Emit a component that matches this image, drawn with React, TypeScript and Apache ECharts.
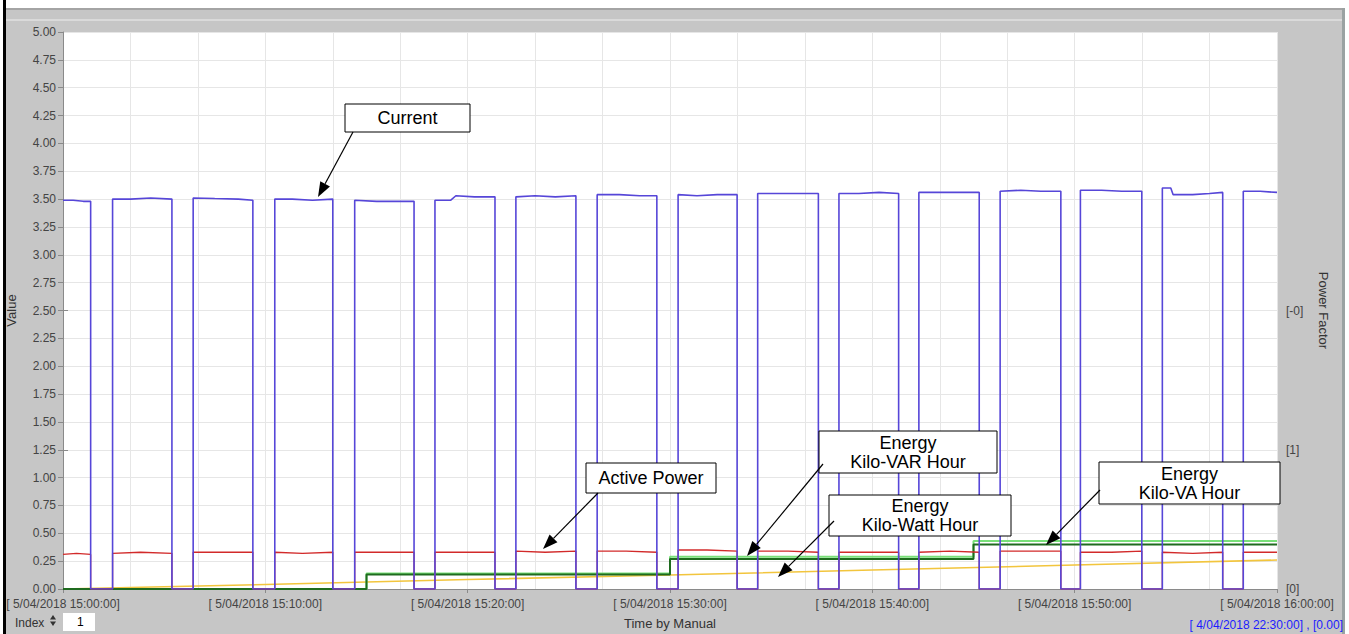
import React, { useEffect, useRef } from "react";
import * as echarts from "echarts";

// ---- data (time in seconds after 5/04/2018 15:00:00) ----
const xLabelTimes = [0, 600, 1200, 1800, 2400, 3000, 3600];
const powerFactorTicks = [0, 1, 2];
const powerFactorLabels = ["[0]", "[1]", "[-0]"];

const current: [number, number][] = [
  [0, 3.49], [30, 3.49], [60, 3.48], [82, 3.48], [82, 0], [147, 0],
  [147, 3.5], [200, 3.5], [260, 3.51], [323, 3.5], [323, 0], [386, 0],
  [386, 3.51], [450, 3.505], [520, 3.5], [563, 3.49], [563, 0], [628, 0],
  [628, 3.5], [680, 3.5], [740, 3.49], [800, 3.5], [800, 0], [865, 0],
  [865, 3.49], [930, 3.48], [990, 3.48], [1041, 3.48], [1041, 0], [1103, 0],
  [1103, 3.49], [1150, 3.49], [1165, 3.53], [1220, 3.52], [1281, 3.52], [1281, 0], [1343, 0],
  [1343, 3.52], [1400, 3.53], [1460, 3.52], [1521, 3.53], [1521, 0], [1584, 0],
  [1584, 3.54], [1650, 3.54], [1710, 3.53], [1761, 3.53], [1761, 0], [1824, 0],
  [1824, 3.54], [1880, 3.53], [1940, 3.54], [1999, 3.54], [1999, 0], [2060, 0],
  [2060, 3.55], [2120, 3.55], [2180, 3.55], [2240, 3.55], [2240, 0], [2301, 0],
  [2301, 3.55], [2360, 3.55], [2420, 3.56], [2478, 3.55], [2478, 0], [2538, 0],
  [2538, 3.56], [2600, 3.56], [2660, 3.56], [2717, 3.56], [2717, 0], [2779, 0],
  [2779, 3.57], [2840, 3.58], [2900, 3.57], [2959, 3.57], [2959, 0], [3017, 0],
  [3017, 3.58], [3080, 3.58], [3140, 3.57], [3199, 3.57], [3199, 0], [3260, 0],
  [3260, 3.6], [3285, 3.6], [3292, 3.54], [3350, 3.54], [3400, 3.55], [3439, 3.56], [3439, 0], [3500, 0],
  [3500, 3.57], [3550, 3.57], [3600, 3.56],
];

const activePower: [number, number][] = [
  [0, 0.31], [40, 0.32], [82, 0.31], [82, 0], [147, 0],
  [147, 0.32], [230, 0.33], [323, 0.32], [323, 0], [386, 0],
  [386, 0.33], [470, 0.33], [563, 0.33], [563, 0], [628, 0],
  [628, 0.33], [710, 0.32], [800, 0.33], [800, 0], [865, 0],
  [865, 0.33], [950, 0.33], [1041, 0.33], [1041, 0], [1103, 0],
  [1103, 0.33], [1190, 0.33], [1281, 0.33], [1281, 0], [1343, 0],
  [1343, 0.34], [1430, 0.33], [1521, 0.34], [1521, 0], [1584, 0],
  [1584, 0.34], [1670, 0.34], [1761, 0.33], [1761, 0], [1824, 0],
  [1824, 0.35], [1910, 0.35], [1999, 0.34], [1999, 0], [2060, 0],
  [2060, 0.34], [2150, 0.34], [2240, 0.33], [2240, 0], [2301, 0],
  [2301, 0.33], [2390, 0.33], [2478, 0.33], [2478, 0], [2538, 0],
  [2538, 0.33], [2630, 0.34], [2717, 0.33], [2717, 0], [2779, 0],
  [2779, 0.34], [2870, 0.34], [2959, 0.34], [2959, 0], [3017, 0],
  [3017, 0.33], [3110, 0.33], [3199, 0.34], [3199, 0], [3260, 0],
  [3260, 0.33], [3350, 0.32], [3439, 0.33], [3439, 0], [3500, 0],
  [3500, 0.33], [3600, 0.33],
];

const kiloVarHour: [number, number][] = [
  [0, 0], [900, 0], [900, 0.13], [1800, 0.13], [1800, 0.27], [2700, 0.27], [2700, 0.4], [3600, 0.4],
];
const kiloVaHour: [number, number][] = [
  [0, 0], [900, 0], [900, 0.14], [1800, 0.14], [1800, 0.29], [2700, 0.29], [2700, 0.43], [3600, 0.43],
];
const kiloWattHour: [number, number][] = [
  [0, 0], [300, 0.02], [600, 0.04], [1200, 0.085], [1800, 0.125], [2400, 0.17], [3000, 0.215], [3600, 0.26],
];

// ---- annotation layout (pixels) ----
const annotations = [
  { lines: ["Current"], box: [345, 104, 125, 28], from: [353, 132], to: [318, 197] },
  { lines: ["Active Power"], box: [586, 463, 130, 30], from: [598, 493], to: [543, 549] },
  { lines: ["Energy", "Kilo-VAR Hour"], box: [819, 431, 178, 42], from: [823, 464], to: [747, 556] },
  { lines: ["Energy", "Kilo-Watt Hour"], box: [829, 495, 182, 41], from: [834, 521], to: [778, 577] },
  { lines: ["Energy", "Kilo-VA Hour"], box: [1099, 462, 181, 42], from: [1100, 490], to: [1046, 545] },
];

const FONT = "'Liberation Sans', Arial, sans-serif";

function fmtTime(v: number) {
  const total = 15 * 60 + Math.round(v / 60);
  const h = Math.floor(total / 60);
  const m = total % 60;
  return `[ 5/04/2018 ${h}:${String(m).padStart(2, "0")}:00]`;
}

function arrow(x1: number, y1: number, x2: number, y2: number) {
  const ang = Math.atan2(y2 - y1, x2 - x1);
  const L = 15;
  const W = 5.5;
  const bx = x2 - L * Math.cos(ang);
  const by = y2 - L * Math.sin(ang);
  const px = -Math.sin(ang) * W;
  const py = Math.cos(ang) * W;
  return [
    { type: "line", z: 100, silent: true, shape: { x1, y1, x2: bx, y2: by }, style: { stroke: "#000", lineWidth: 1.2 } },
    {
      type: "polygon", z: 100, silent: true,
      shape: { points: [[x2, y2], [bx + px, by + py], [bx - px, by - py]] },
      style: { fill: "#000" },
    },
  ];
}

function buildGraphics() {
  const g: any[] = [];
  // window chrome
  g.push({ type: "rect", z: 1, silent: true, shape: { x: 0, y: 0, width: 1349, height: 8 }, style: { fill: "#ffffff" } });
  g.push({ type: "rect", z: 1, silent: true, shape: { x: 0, y: 8, width: 1349, height: 2 }, style: { fill: "#a4a4a4" } });
  g.push({ type: "rect", z: 1, silent: true, shape: { x: 0, y: 19, width: 1345, height: 2 }, style: { fill: "#dadada" } });
  g.push({ type: "rect", z: 1, silent: true, shape: { x: 0, y: 0, width: 4, height: 634 }, style: { fill: "#ffffff" } });
  g.push({ type: "rect", z: 1, silent: true, shape: { x: 3, y: 0, width: 3, height: 634 }, style: { fill: "#000000" } });
  g.push({ type: "rect", z: 1, silent: true, shape: { x: 1342, y: 8, width: 3, height: 626 }, style: { fill: "#9aa2a2" } });
  g.push({ type: "rect", z: 1, silent: true, shape: { x: 1345, y: 8, width: 4, height: 626 }, style: { fill: "#ffffff" } });

  // annotations
  for (const a of annotations) {
    const [x, y, w, h] = a.box;
    g.push({ type: "rect", z: 100, silent: true, shape: { x, y, width: w, height: h }, style: { fill: "#fff", stroke: "#000", lineWidth: 1 } });
    const lh = 19;
    const top = y + h / 2 - ((a.lines.length - 1) * lh) / 2;
    a.lines.forEach((t, i) => {
      g.push({
        type: "text", z: 101, silent: true,
        style: { text: t, x: x + w / 2, y: top + i * lh, align: "center", verticalAlign: "middle", font: `18px ${FONT}`, fill: "#000" },
      });
    });
    g.push(...arrow(a.from[0], a.from[1], a.to[0], a.to[1]));
  }

  // bottom-left index control
  g.push({ type: "text", z: 5, silent: true, style: { text: "Index", x: 15, y: 623, verticalAlign: "middle", font: `12px ${FONT}`, fill: "#333" } });
  g.push({ type: "polygon", z: 5, silent: true, shape: { points: [[53, 615], [50, 619.5], [56, 619.5]] }, style: { fill: "#333" } });
  g.push({ type: "polygon", z: 5, silent: true, shape: { points: [[50, 621.5], [56, 621.5], [53, 626]] }, style: { fill: "#333" } });
  g.push({ type: "rect", z: 5, silent: true, shape: { x: 63, y: 613, width: 32, height: 18 }, style: { fill: "#fff" } });
  g.push({ type: "text", z: 6, silent: true, style: { text: "1", x: 77, y: 622, verticalAlign: "middle", font: `12px ${FONT}`, fill: "#000" } });

  // bottom-right cursor readout
  g.push({
    type: "text", z: 5, silent: true,
    style: { text: "[ 4/04/2018 22:30:00] , [0.00]", x: 1343, y: 625, align: "right", verticalAlign: "middle", font: `12px ${FONT}`, fill: "#1c1cff" },
  });
  return g;
}

export default function App() {
  const ref = useRef<HTMLDivElement>(null);
  useEffect(() => {
    document.body.style.margin = "0";
    if (!ref.current) return;
    const chart = echarts.init(ref.current, undefined, { renderer: "svg" });
    const axisGray = "#8a8a8a";
    const gridGray = "#e6e6e6";
    const labelStyle = { fontSize: 12, color: "#444", fontFamily: FONT };
    const lineSeries = (name: string, data: [number, number][], color: string, width: number, z: number) => ({
      name, type: "line", data, xAxisIndex: 0, yAxisIndex: 0, showSymbol: false, symbol: "none", z,
      lineStyle: { color, width }, itemStyle: { color }, emphasis: { disabled: true },
    });
    chart.setOption({
      animation: false,
      backgroundColor: "#c6c6c6",
      textStyle: { fontFamily: FONT },
      grid: {
        left: 63, right: 72, top: 32, bottom: 45, show: true, backgroundColor: "#ffffff", borderWidth: 0,
        containLabel: false, outerBoundsMode: "none",
      },
      xAxis: [
        {
          type: "value", min: 0, max: 3600, interval: 200, position: "bottom",
          axisLine: { show: true, lineStyle: { color: axisGray } },
          axisTick: { show: false }, axisLabel: { show: false },
          splitLine: { show: true, lineStyle: { color: gridGray, width: 1 } },
        },
        {
          type: "value", min: 0, max: 3600, interval: 600, position: "bottom",
          axisLine: { show: false },
          axisTick: { show: true, length: 4, lineStyle: { color: axisGray } },
          axisLabel: { ...labelStyle, margin: 9, formatter: (v: number) => (xLabelTimes.includes(v) ? fmtTime(v) : "") },
          splitLine: { show: false },
          name: "Time by Manual", nameLocation: "middle", nameGap: 28,
          nameTextStyle: { fontSize: 13, color: "#333", fontFamily: FONT },
        },
      ],
      yAxis: [
        {
          type: "value", min: 0, max: 5, interval: 0.25,
          axisLine: { show: true, lineStyle: { color: axisGray } },
          axisTick: { show: true, length: 5, lineStyle: { color: axisGray } },
          axisLabel: { ...labelStyle, margin: 7, formatter: (v: number) => v.toFixed(2) },
          splitLine: { show: true, lineStyle: { color: gridGray, width: 1 } },
          name: "Value", nameLocation: "middle", nameGap: 45,
          nameTextStyle: { fontSize: 13, color: "#333", fontFamily: FONT },
        },
        {
          type: "value", position: "right", min: 0, max: 4, interval: 1,
          axisLine: { show: false },
          axisTick: { show: true, length: 5, customValues: powerFactorTicks, lineStyle: { color: axisGray } },
          axisLabel: {
            ...labelStyle, margin: 9, customValues: powerFactorTicks,
            formatter: (v: number) => powerFactorLabels[powerFactorTicks.indexOf(v)] ?? "",
          },
          splitLine: { show: false },
          name: "Power Factor", nameLocation: "middle", nameRotate: -90, nameGap: 40,
          nameTextStyle: { fontSize: 13, color: "#333", fontFamily: FONT },
        },
      ],
      series: [
        lineSeries("Energy Kilo-Watt Hour", kiloWattHour, "#f2c53d", 1.6, 2),
        lineSeries("Energy Kilo-VA Hour", kiloVaHour, "#78e078", 2, 3),
        lineSeries("Energy Kilo-VAR Hour", kiloVarHour, "#1f6b1f", 2, 4),
        lineSeries("Active Power", activePower, "#d22a2a", 1.3, 5),
        lineSeries("Current", current, "#5646d8", 1.6, 6),
      ],
      graphic: buildGraphics(),
    });
    return () => chart.dispose();
  }, []);
  return <div ref={ref} style={{ width: 1349, height: 634 }} />;
}
